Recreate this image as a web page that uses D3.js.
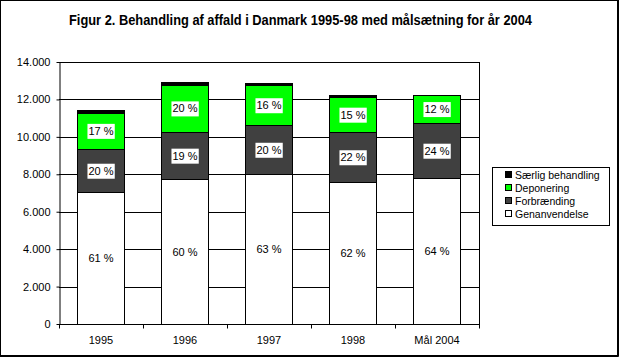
<!DOCTYPE html>
<html><head><meta charset="utf-8">
<script src="https://cdn.jsdelivr.net/npm/d3@7"></script>
<style>body{margin:0;background:#fff}svg{display:block}text{font-family:"Liberation Sans",Arial,sans-serif}</style>
</head><body>
<script>
const categories = ["1995", "1996", "1997", "1998", "Mål 2004"];
const seriesNames = ["Genanvendelse", "Forbrænding", "Deponering", "Særlig behandling"];
const genanvendelse = [7040, 7740, 8000, 7570, 7790];
const forbraending = [2300, 2510, 2620, 2680, 2940];
const deponering = [1960, 2540, 2140, 1870, 1510];
const saerlig = [120, 130, 100, 120, 0];
const pctGen = ["61 %", "60 %", "63 %", "62 %", "64 %"];
const pctForb = ["20 %", "19 %", "20 %", "22 %", "24 %"];
const pctDep = ["17 %", "20 %", "16 %", "15 %", "12 %"];
const yTicks = [0, 2000, 4000, 6000, 8000, 10000, 12000, 14000];
const title = "Figur 2. Behandling af affald i Danmark 1995-98 med målsætning for år 2004";

const colors = ["#ffffff", "#404040", "#00ff00", "#000000"];
const W = 619, H = 357;
const svg = d3.select("body").append("svg").attr("width", W).attr("height", H);

svg.append("rect").attr("x", 0.5).attr("y", 0.5).attr("width", 617).attr("height", 355)
  .attr("fill", "#fff").attr("stroke", "#000");
svg.append("path").attr("d", `M618.5,0V356.5H0`).attr("fill", "none").attr("stroke", "#000");

svg.append("text").attr("x", 69).attr("y", 25)
  .attr("textLength", 463).attr("lengthAdjust", "spacingAndGlyphs")
  .style("font-family", '"Liberation Sans Narrow","Liberation Sans",sans-serif')
  .style("font-weight", "bold").style("font-size", "14px").text(title);

const pLeft = 59, pRight = 479, pTop = 62, pBottom = 324;
const x = d3.scaleBand().domain(categories).range([pLeft, pRight]).paddingInner(0.44).paddingOuter(0.22);
const y = d3.scaleLinear().domain([0, 14000]).range([pBottom, pTop]);

// gridlines
svg.append("g").selectAll("line").data(yTicks.filter(d => d > 0)).join("line")
  .attr("x1", pLeft).attr("x2", pRight)
  .attr("y1", d => Math.round(y(d)) + 0.5).attr("y2", d => Math.round(y(d)) + 0.5)
  .attr("stroke", "#000");
svg.append("line").attr("x1", pRight + 0.5).attr("x2", pRight + 0.5).attr("y1", pTop).attr("y2", pBottom)
  .attr("stroke", "#000");

const rows = categories.map((c, i) => ({cat: c, g: genanvendelse[i], f: forbraending[i], d: deponering[i], s: saerlig[i]}));
const stack = d3.stack().keys(["g", "f", "d", "s"]);
const series = stack(rows);

const bars = svg.append("g");
series.forEach((ser, si) => {
  bars.selectAll(null).data(ser).join("rect")
    .attr("x", d => Math.round(x(d.data.cat)) + 0.5)
    .attr("width", Math.round(x.bandwidth()))
    .attr("y", d => Math.round(y(d[1])) + 0.5)
    .attr("height", d => Math.max(0, Math.round(y(d[0])) - Math.round(y(d[1]))))
    .attr("fill", colors[si]).attr("stroke", "#000");
});

// percentage labels
const pcts = [pctGen, pctForb, pctDep];
pcts.forEach((arr, si) => {
  series[si].forEach((d, i) => {
    const cx = x(d.data.cat) + x.bandwidth() / 2;
    const cy = (y(d[0]) + y(d[1])) / 2;
    const g = svg.append("g");
    const t = g.append("text").attr("x", cx).attr("y", cy + 4).attr("text-anchor", "middle")
      .style("font-size", "11px").text(arr[i]);
    const bb = t.node().getBBox();
    g.insert("rect", "text").attr("x", bb.x - 1).attr("y", cy - 7).attr("width", bb.width + 2).attr("height", 15)
      .attr("fill", "#fff");
  });
});

// axes
const yAxis = d3.axisLeft(y).tickValues(yTicks).tickSize(3).tickSizeOuter(0)
  .tickFormat(d => d3.format(",")(d).replace(/,/g, "."));
const ya = svg.append("g").attr("transform", `translate(${pLeft + 0.5},0)`).call(yAxis);
ya.selectAll("text").style("font-size", "11px").style("font-family", '"Liberation Sans",Arial,sans-serif')
  .attr("x", -9).attr("fill", "#000");
ya.selectAll("line").attr("stroke", "#000");
ya.select(".domain").attr("stroke", "#000");

const xb = d3.scaleLinear().domain([0, 5]).range([pLeft, pRight]);
const xa = svg.append("g").attr("transform", `translate(0,${pBottom + 0.5})`);
xa.append("line").attr("x1", pLeft).attr("x2", pRight + 1).attr("stroke", "#000");
xa.selectAll(".tk").data(d3.range(6)).join("line").attr("class", "tk")
  .attr("x1", d => Math.round(xb(d)) + 0.5).attr("x2", d => Math.round(xb(d)) + 0.5)
  .attr("y1", 0).attr("y2", 4).attr("stroke", "#000");
xa.selectAll("text").data(categories).join("text")
  .attr("x", d => x(d) + x.bandwidth() / 2).attr("y", 19).attr("text-anchor", "middle")
  .style("font-size", "11px").text(d => d);

// legend
const lg = svg.append("g");
lg.append("rect").attr("x", 492.5).attr("y", 167.5).attr("width", 117).attr("height", 58)
  .attr("fill", "#fff").attr("stroke", "#000");
const legendOrder = [3, 2, 1, 0];
legendOrder.forEach((si, k) => {
  const cy = 175 + k * 13;
  lg.append("rect").attr("x", 505.5).attr("y", cy - 3.5).attr("width", 6).attr("height", 6)
    .attr("fill", colors[si]).attr("stroke", "#000");
  lg.append("text").attr("x", 515).attr("y", cy + 4).style("font-size", "10.5px").text(seriesNames[si]);
});
</script>
</body></html>
